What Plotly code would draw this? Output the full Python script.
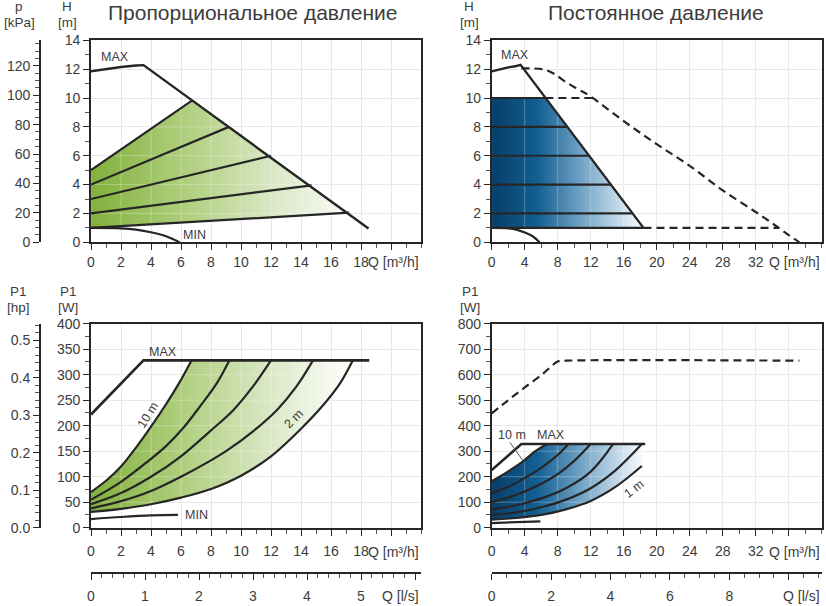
import plotly.graph_objects as go

# ======================= DATA =======================
# --- Top-left: proportional pressure, H [m] vs Q [m3/h]
tl_max_q = [0, 1, 2, 3, 3.5, 18.5]
tl_max_h = [11.85, 12.02, 12.15, 12.25, 12.28, 0.95]
tl_min_q = [0, 2, 3, 4, 5, 5.9]
tl_min_h = [1.0, 0.97, 0.88, 0.7, 0.42, 0.0]
prop_start_h = [5, 4, 3, 2, 1]
prop_end_q = [6.7, 9.2, 12.0, 14.7, 17.2]
prop_end_h = [9.8, 8.0, 6.0, 3.95, 2.05]

# --- Top-right: constant pressure, H [m] vs Q [m3/h]
tr_max_q = [0, 1, 2, 3, 3.5, 18.4]
tr_max_h = [11.85, 12.0, 12.12, 12.22, 12.3, 1.0]
tr_min_q = [0, 2, 3, 4, 5, 5.8]
tr_min_h = [1.0, 0.97, 0.88, 0.68, 0.4, 0.0]
const_h = [10, 8, 6, 4, 2, 1]
const_end_q = [6.5, 9.1, 11.9, 14.5, 17.0, 18.4]
big_q = [3.6, 5, 6.5, 7.5, 9, 10.5, 12, 16, 20, 24, 28, 32, 34.8, 36, 37.3]
big_h = [12.05, 12.05, 11.95, 11.7, 11.1, 10.6, 10.1, 8.4, 6.8, 5.3, 3.6, 2.1, 1.0, 0.5, 0.0]
ext10_q = [6.5, 12.2]
ext10_h = [10, 10]
ext1_q = [18.4, 34.8]
ext1_h = [1, 1]

# --- Bottom-left: P1 [W] vs Q [m3/h], proportional pressure
bl_max_q = [0, 3.5, 18.55]
bl_max_p = [222, 328, 328]
bl_min_q = [0, 2, 4, 5.8]
bl_min_p = [17, 21, 24, 25]
bl_10_q = [0, 1, 2, 3, 4, 5, 5.9, 6.7]
bl_10_p = [70, 92, 120, 157, 198, 242, 285, 328]
bl_8_q = [0, 2, 3.7, 5.0, 6.16, 7.27, 8.38, 9.22]
bl_8_p = [55, 90, 128, 160, 196, 238, 283, 328]
bl_6_q = [0, 2, 4, 6, 7.93, 9.5, 10.8, 12.0]
bl_6_p = [46, 68, 100, 140, 189, 231, 277, 328]
bl_4_q = [0, 2, 4, 6, 8, 9.1, 10.8, 12.4, 13.7, 14.8]
bl_4_p = [38, 52, 72, 100, 132, 152, 189, 231, 277, 328]
bl_2_q = [0, 2, 4, 6, 8, 10, 12, 14, 15.5, 16.6, 17.45]
bl_2_p = [31, 37, 46, 59, 76, 102, 140, 194, 241, 283, 328]

# --- Bottom-right: P1 [W] vs Q [m3/h], constant pressure
br_dash_q = [0, 2, 4, 6, 7.3, 8, 9, 37.3]
br_dash_p = [448, 500, 550, 598, 635, 652, 655, 655]
br_max_q = [0, 3.6, 18.6]
br_max_p = [226, 328, 328]
br_min_q = [0, 3, 5.9]
br_min_p = [18, 22, 25]
br_10_q = [0, 2, 3.8, 5.2, 6.7]
br_10_p = [182, 221, 260, 298, 328]
br_8_q = [0, 2, 4, 6, 8, 9.3]
br_8_p = [135, 160, 195, 235, 285, 328]
br_6_q = [0, 2, 4, 6, 8, 10, 12]
br_6_p = [100, 118, 142, 172, 210, 262, 328]
br_4_q = [0, 3, 6, 9, 12, 14.7]
br_4_p = [72, 88, 115, 155, 220, 328]
br_2_q = [0, 3, 6, 9, 12, 15, 18.2]
br_2_p = [50, 60, 80, 110, 155, 225, 328]
br_1_q = [0, 3, 6, 9, 12, 15, 18.2]
br_1_p = [32, 38, 50, 72, 105, 160, 242]

# --- tick labels
tl_x_ticks = [0, 2, 4, 6, 8, 10, 12, 14, 16, 18, 20]
tl_x_text = ["0", "2", "4", "6", "8", "10", "12", "14", "16", "18", ""]
tr_x_ticks = [0, 4, 8, 12, 16, 20, 24, 28, 32, 36]
tr_x_text = ["0", "4", "8", "12", "16", "20", "24", "28", "32", ""]
h_ticks = [0, 2, 4, 6, 8, 10, 12, 14]
kpa_ticks = [0, 20, 40, 60, 80, 100, 120]
pl_ticks = [0, 50, 100, 150, 200, 250, 300, 350, 400]
pr_ticks = [0, 100, 200, 300, 400, 500, 600, 700, 800]
hp_ticks = [0, 0.1, 0.2, 0.3, 0.4, 0.5]
hp_text = ["0.0", "0.1", "0.2", "0.3", "0.4", "0.5"]
ls_l_ticks = [0, 1, 2, 3, 4, 5, 6]
ls_l_text = ["0", "1", "2", "3", "4", "5", ""]
ls_r_ticks = [0, 2, 4, 6, 8, 10]
ls_r_text = ["0", "2", "4", "6", "8", ""]

# ======================= STYLE =======================
W, H = 826, 606
FONT = "Liberation Sans, Arial, sans-serif"
INK = "#262626"
TXT = "#3c3c3c"
GRID = "#e3e3e3"
GREEN = [[0, "#82b03c"], [0.35, "#afcf7e"], [0.7, "#dde9ca"], [1, "#ffffff"]]
BLUE = [[0, "#073e68"], [0.3, "#135f92"], [0.62, "#7eaccc"], [1, "#ffffff"]]
LW = 2.2


def fx(p):
    return p / W


def fy(p):
    return 1 - p / H


# plot boxes (pixels)
XL = [91, 421]
XR = [491.7, 821.7]
YT = [242.3, 40.3]
YB = [527.7, 323.7]

fig = go.Figure()


def line(x, y, xa, ya, dash=None, shape="linear", width=LW, color=INK):
    fig.add_trace(go.Scatter(x=x, y=y, xaxis=xa, yaxis=ya, mode="lines",
                             line=dict(color=color, width=width, dash=dash, shape=shape),
                             hoverinfo="skip", showlegend=False))


def fill(x, y, xa, ya, scale, stop):
    fig.add_trace(go.Scatter(x=x, y=y, xaxis=xa, yaxis=ya, mode="none", fill="toself",
                             fillgradient=dict(type="horizontal", colorscale=scale, start=0, stop=stop),
                             hoverinfo="skip", showlegend=False))


def grid_overlay(xa, ya, xs, ys, xr, yr):
    gx, gy = [], []
    for v in xs:
        gx += [v, v, None]
        gy += [yr[0], yr[1], None]
    for v in ys:
        gx += [xr[0], xr[1], None]
        gy += [v, v, None]
    line(gx, gy, xa, ya, width=1, color="rgba(255,255,255,0.28)")


# ---------- Top-left ----------
fill([0, prop_end_q[0], prop_end_q[-1], 0],
     [prop_start_h[0], prop_end_h[0], prop_end_h[-1], prop_start_h[-1]], "x", "y", GREEN, 18)
grid_overlay("x", "y", tl_x_ticks, h_ticks, [0, 22], [0, 14])
for h0, q1, h1 in zip(prop_start_h, prop_end_q, prop_end_h):
    line([0, q1], [h0, h1], "x", "y")
line(tl_max_q, tl_max_h, "x", "y", width=2.4)
line(tl_min_q, tl_min_h, "x", "y", shape="spline")

# ---------- Top-right ----------
fill([0, const_end_q[0], const_end_q[-1], 0],
     [const_h[0], const_h[0], const_h[-1], const_h[-1]], "x2", "y2", BLUE, 18.6)
grid_overlay("x2", "y2", tr_x_ticks, h_ticks, [0, 40], [0, 14])
for h, q in zip(const_h, const_end_q):
    line([0, q], [h, h], "x2", "y2")
line(tr_max_q, tr_max_h, "x2", "y2", width=2.4)
line(tr_min_q, tr_min_h, "x2", "y2", shape="spline")
line(big_q, big_h, "x2", "y2", dash="8px,5px", shape="spline")
line(ext10_q, ext10_h, "x2", "y2", dash="8px,5px")
line(ext1_q, ext1_h, "x2", "y2", dash="8px,5px")

# ---------- Bottom-left ----------
fill(bl_10_q + bl_2_q[::-1], bl_10_p + bl_2_p[::-1], "x3", "y3", GREEN, 17.5)
grid_overlay("x3", "y3", tl_x_ticks, pl_ticks, [0, 22], [0, 400])
for q, p in [(bl_10_q, bl_10_p), (bl_8_q, bl_8_p), (bl_6_q, bl_6_p), (bl_4_q, bl_4_p), (bl_2_q, bl_2_p)]:
    line(q, p, "x3", "y3", shape="spline")
line(bl_max_q, bl_max_p, "x3", "y3", width=2.6)
line(bl_min_q, bl_min_p, "x3", "y3", shape="spline")

# ---------- Bottom-right ----------
fill(br_10_q + [br_max_q[-1]] + br_1_q[::-1], br_10_p + [br_max_p[-1]] + br_1_p[::-1],
     "x4", "y4", BLUE, 18.6)
grid_overlay("x4", "y4", tr_x_ticks, pr_ticks, [0, 40], [0, 800])
for q, p in [(br_10_q, br_10_p), (br_8_q, br_8_p), (br_6_q, br_6_p), (br_4_q, br_4_p),
             (br_2_q, br_2_p), (br_1_q, br_1_p)]:
    line(q, p, "x4", "y4", shape="spline")
line(br_max_q, br_max_p, "x4", "y4", width=2.6)
line(br_min_q, br_min_p, "x4", "y4", shape="spline")
line(br_dash_q, br_dash_p, "x4", "y4", dash="8px,5px", shape="spline")
line([2.2, 3.8], [335, 262], "x4", "y4", width=1, color="#555555")

# dummy invisible traces so that the secondary axes are rendered
for xa, ya, xv, yv in [("x", "y5", 1, 1), ("x3", "y6", 1, 0.1), ("x5", "y3", 1, 1), ("x6", "y4", 1, 1)]:
    fig.add_trace(go.Scatter(x=[xv], y=[yv], xaxis=xa, yaxis=ya, mode="markers",
                             marker=dict(opacity=0), hoverinfo="skip", showlegend=False))

# ======================= AXES =======================
tickfont = dict(family=FONT, size=14, color=TXT)


def axis(domain, rng, tickvals, ticktext, minor_dtick, anchor, grid=True, **kw):
    d = dict(domain=domain, range=rng, anchor=anchor, tickmode="array", tickvals=tickvals,
             ticktext=ticktext, showline=True, linecolor=INK, linewidth=1.8, mirror=True,
             ticks="outside", ticklen=6, tickwidth=1.3, tickcolor=INK, showgrid=grid,
             gridcolor=GRID, gridwidth=1, zeroline=False, tickfont=tickfont, fixedrange=True,
             automargin=False,
             minor=dict(tickmode="linear", tick0=0, dtick=minor_dtick, ticklen=4, tickwidth=1,
                        tickcolor="#555555", ticks="outside", showgrid=False))
    d.update(kw)
    return d


xdom_l = [fx(XL[0]), fx(XL[1])]
xdom_r = [fx(XR[0]), fx(XR[1])]
ydom_t = [fy(YT[0]), fy(YT[1])]
ydom_b = [fy(YB[0]), fy(YB[1])]

fig.update_layout(
    xaxis=axis(xdom_l, [0, 22], tl_x_ticks, tl_x_text, 1, "y"),
    yaxis=axis(ydom_t, [0, 14], h_ticks, [str(v) for v in h_ticks], 1, "x"),
    xaxis2=axis(xdom_r, [0, 40], tr_x_ticks, tr_x_text, 2, "y2"),
    yaxis2=axis(ydom_t, [0, 14], h_ticks, [str(v) for v in h_ticks], 1, "x2"),
    xaxis3=axis(xdom_l, [0, 22], tl_x_ticks, tl_x_text, 1, "y3", ticklabelstandoff=4),
    yaxis3=axis(ydom_b, [0, 400], pl_ticks, [str(v) for v in pl_ticks], 25, "x3"),
    xaxis4=axis(xdom_r, [0, 40], tr_x_ticks, tr_x_text, 2, "y4", ticklabelstandoff=4),
    yaxis4=axis(ydom_b, [0, 800], pr_ticks, [str(v) for v in pr_ticks], 50, "x4"),
    yaxis5=axis(ydom_t, [0, 137.3], kpa_ticks, [str(v) for v in kpa_ticks], 5, "free",
                grid=False, overlaying="y", position=fx(40), side="left", mirror=False),
    yaxis6=axis(ydom_b, [0, 0.5438], hp_ticks, hp_text, 0.02, "free",
                grid=False, overlaying="y3", position=fx(40), side="left", mirror=False),
    xaxis5=axis(xdom_l, [0, 6.111], ls_l_ticks, ls_l_text, 0.2, "free",
                grid=False, overlaying="x3", position=fy(573.3), side="bottom", mirror=False,
                ticklabelstandoff=4),
    xaxis6=axis(xdom_r, [0, 11.111], ls_r_ticks, ls_r_text, 0.5, "free",
                grid=False, overlaying="x4", position=fy(573.3), side="bottom", mirror=False,
                ticklabelstandoff=4),
)

# ======================= TEXT =======================
ann = []


def txt(x, y, s, size=14, xanchor="center", yanchor="middle", xref="paper", yref="paper",
        angle=0, color=TXT):
    ann.append(dict(x=x, y=y, text=s, xref=xref, yref=yref, showarrow=False, xanchor=xanchor,
                    yanchor=yanchor, textangle=angle, font=dict(family=FONT, size=size, color=color)))


# titles
txt(fx(252), fy(12), "Пропорциональное давление", size=21)
txt(fx(656), fy(12), "Постоянное давление", size=21)
# axis titles
txt(fx(19), fy(7), "p", size=13.5)
txt(fx(19), fy(23), "[kPa]", size=13.5)
txt(fx(67), fy(7), "H", size=13.5)
txt(fx(67), fy(23), "[m]", size=13.5)
txt(fx(469), fy(7), "H", size=13.5)
txt(fx(469), fy(23), "[m]", size=13.5)
txt(fx(18), fy(291), "P1", size=13.5)
txt(fx(18), fy(307), "[hp]", size=13.5)
txt(fx(68), fy(291), "P1", size=13.5)
txt(fx(68), fy(307), "[W]", size=13.5)
txt(fx(470), fy(291), "P1", size=13.5)
txt(fx(470), fy(307), "[W]", size=13.5)
# Q labels
txt(fx(421), fy(262), "Q [m³/h]", xanchor="right")
txt(fx(822), fy(262), "Q [m³/h]", xanchor="right")
txt(fx(421), fy(552), "Q [m³/h]", xanchor="right")
txt(fx(822), fy(552), "Q [m³/h]", xanchor="right")
txt(fx(421), fy(596), "Q [l/s]", xanchor="right")
txt(fx(822), fy(596), "Q [l/s]", xanchor="right")
# curve labels
txt(1.6, 12.86, "MAX", size=12.5, xref="x", yref="y")
txt(6.93, 0.5, "MIN", size=12.5, xref="x", yref="y")
txt(2.82, 12.98, "MAX", size=12.5, xref="x2", yref="y2")
txt(4.82, 344, "MAX", size=12.5, xref="x3", yref="y3")
txt(7.04, 25, "MIN", size=12.5, xref="x3", yref="y3")
txt(3.8, 221, "10 m", size=12.5, xref="x3", yref="y3", angle=-58)
txt(13.5, 214, "2 m", size=12.5, xref="x3", yref="y3", angle=-45)
txt(2.4, 363, "10 m", size=12.5, xref="x4", yref="y4")
txt(7.2, 363, "MAX", size=12.5, xref="x4", yref="y4")
txt(17.25, 150, "1 m", size=12.5, xref="x4", yref="y4", angle=-38)

fig.update_layout(
    annotations=ann,
    width=W, height=H,
    margin=dict(l=0, r=0, t=0, b=0, pad=0, autoexpand=False),
    plot_bgcolor="white", paper_bgcolor="white",
    showlegend=False,
    font=dict(family=FONT, color=TXT),
)

pin = ("document.documentElement.style.margin='0';document.documentElement.style.overflow='hidden';"
       "document.body.style.margin='0';document.body.style.padding='0';document.body.style.overflow='hidden';"
       "var d=document.getElementById('{plot_id}');d.style.position='absolute';"
       "d.style.left='0px';d.style.top='0px';")
fig.write_html("out.html", post_script=pin, config={"displayModeBar": False})
